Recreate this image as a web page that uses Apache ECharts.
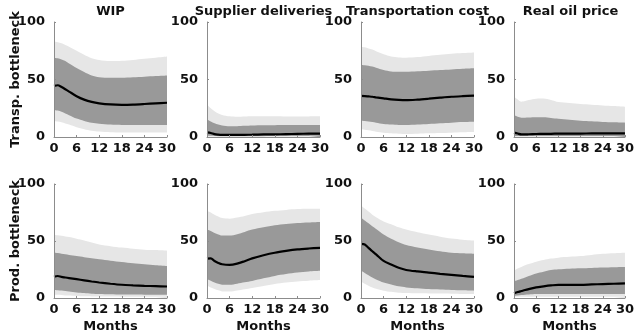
<!DOCTYPE html>
<html><head><meta charset="utf-8">
<script src="https://cdn.jsdelivr.net/npm/echarts@6/dist/echarts.min.js"></script>
<style>html,body{margin:0;padding:0;background:#fff}#c{width:637px;height:334px}</style>
</head><body><div id="c"></div>
<script>
const months = [0, 1, 2, 3, 4, 6, 8, 10, 12, 15, 18, 21, 24, 27, 30];
const colTitles = ['WIP', 'Supplier deliveries', 'Transportation cost', 'Real oil price'];
const rowNames = ['Transp. bottleneck', 'Prod. bottleneck'];
const xLabelName = 'Months';
const yTickVals = [0, 50, 100];
const xTickVals = [0, 6, 12, 18, 24, 30];

// Row 1: transportation bottleneck
const tWipOHi = [83, 82.5, 81.5, 80, 78.5, 75, 71.5, 68.5, 67, 66, 66.3, 67, 68, 69, 70];
const tWipIHi = [69, 68.5, 67.5, 66, 64, 60, 56.5, 53.5, 52, 51.5, 51.5, 52, 52.5, 53, 53.5];
const tWipMed = [44.5, 45, 43.5, 41.5, 39.5, 35.5, 32.5, 30.5, 29.3, 28.3, 28, 28.2, 28.7, 29.3, 29.8];
const tWipILo = [23.5, 23, 22, 20.5, 19, 16, 14, 12.3, 11.5, 10.8, 10.5, 10.5, 10.5, 10.5, 10.5];
const tWipOLo = [14, 13.5, 12.8, 11.8, 10.8, 8.5, 6.8, 5.5, 4.8, 4.2, 4, 4, 4, 4, 4];

const tSupOHi = [28, 25, 22.5, 20.5, 19.2, 18, 17.6, 17.8, 18, 18, 18, 17.8, 17.8, 17.9, 18];
const tSupIHi = [15.5, 13.5, 12, 10.8, 10, 9.3, 9.4, 9.7, 10, 10.2, 10.3, 10.4, 10.5, 10.5, 10.5];
const tSupMed = [4, 3.5, 2.5, 2.1, 1.9, 1.8, 1.8, 1.9, 2, 2.2, 2.3, 2.5, 2.7, 2.9, 3];
const tSupILo = [1, 1, 0.8, 0.7, 0.6, 0.6, 0.6, 0.6, 0.7, 0.7, 0.8, 0.8, 0.9, 0.9, 1];
const tSupOLo = [0.2, 0.2, 0.2, 0.2, 0.2, 0.2, 0.2, 0.2, 0.2, 0.2, 0.2, 0.2, 0.2, 0.2, 0.2];

const tTrnOHi = [78.5, 78, 77, 76, 74.5, 72, 70, 69.2, 69, 69.5, 70.5, 71.5, 72.5, 73, 73.5];
const tTrnIHi = [62.6, 62.4, 62, 61.2, 60.2, 58.3, 57, 56.8, 56.8, 57.2, 57.7, 58.3, 58.8, 59.3, 59.7];
const tTrnMed = [35.7, 35.6, 35.3, 35, 34.5, 33.6, 32.7, 32.2, 32, 32.5, 33.3, 34.2, 35, 35.5, 35.9];
const tTrnILo = [14.2, 14, 13.5, 13, 12.5, 11.3, 10.8, 10.5, 10.4, 10.8, 11.3, 12, 12.5, 13, 13.3];
const tTrnOLo = [6.7, 6.4, 5.8, 5.2, 4.6, 3.8, 3.2, 2.8, 2.6, 2.9, 3.2, 3.5, 3.8, 4.1, 4.3];

const tOilOHi = [35, 32.7, 30.7, 31.3, 32.2, 33.3, 33.4, 32.2, 30.4, 29.5, 28.7, 28.1, 27.5, 27, 26.4];
const tOilIHi = [19.1, 17.6, 16.8, 16.8, 16.9, 17.1, 17.1, 16.6, 15.9, 15, 14.2, 13.6, 13, 12.8, 12.5];
const tOilMed = [3.8, 3, 2.3, 2.3, 2.4, 2.6, 2.7, 2.8, 2.9, 3, 3, 3.1, 3.1, 3.2, 3.2];
const tOilILo = [0.8, 0.8, 0.8, 0.8, 0.8, 0.8, 0.8, 0.8, 0.8, 0.8, 0.8, 0.8, 0.8, 0.8, 0.8];
const tOilOLo = [0.2, 0.2, 0.2, 0.2, 0.2, 0.2, 0.2, 0.2, 0.2, 0.2, 0.2, 0.2, 0.2, 0.2, 0.2];

// Row 2: production bottleneck
const pWipOHi = [55.5, 55, 54.6, 54, 53.4, 52, 50.5, 48.7, 47, 45.5, 44.2, 43.2, 42.4, 42, 41.5];
const pWipIHi = [39.7, 39.4, 38.8, 38.3, 37.8, 36.8, 35.8, 34.8, 33.9, 32.7, 31.6, 30.5, 29.6, 28.8, 28.1];
const pWipMed = [18.6, 19.3, 18.5, 18, 17.5, 16.5, 15.5, 14.5, 13.6, 12.5, 11.6, 11.1, 10.7, 10.4, 10.1];
const pWipILo = [7, 6.8, 6.5, 6.1, 5.7, 4.9, 4.3, 3.8, 3.5, 3.2, 3, 3, 2.9, 2.9, 2.9];
const pWipOLo = [2.9, 2.8, 2.6, 2.3, 2.1, 1.7, 1.5, 1.4, 1.3, 1.3, 1.2, 1.2, 1.2, 1.2, 1.2];

const pSupOHi = [76.5, 75, 73, 71.5, 70.1, 69.6, 70.7, 72, 73.6, 75.2, 76.5, 77.3, 78, 78.2, 78.3];
const pSupIHi = [60, 58.8, 57.1, 55.8, 54.8, 54.8, 56, 58, 60, 62, 63.8, 65, 65.8, 66.3, 66.7];
const pSupMed = [34.5, 34.8, 32.5, 30.8, 29.6, 29, 30.1, 32.3, 34.8, 37.5, 39.7, 41.3, 42.6, 43.4, 44];
const pSupILo = [16.5, 15.2, 13.6, 12.4, 11.6, 11.6, 12.6, 13.8, 15, 17.3, 19.4, 21, 22.3, 23.2, 23.8];
const pSupOLo = [10.7, 9.3, 7.8, 6.7, 5.8, 5.6, 6.5, 7.6, 8.7, 10.5, 12.2, 13.5, 14.5, 15.2, 15.7];

const pTrnOHi = [81.2, 78.5, 75.8, 73, 70.8, 67.2, 64.7, 62, 60, 57.6, 55.6, 53.8, 52.2, 51.2, 50.4];
const pTrnIHi = [70.7, 68, 65.5, 62.9, 60.5, 55.6, 52, 49, 46.4, 44.3, 42.6, 41, 39.7, 39.2, 38.8];
const pTrnMed = [47.5, 47, 44, 41, 38.3, 32.5, 29.3, 26.5, 24.6, 23.3, 22.3, 21.2, 20.3, 19.4, 18.6];
const pTrnILo = [23.8, 22, 20, 18, 16.3, 13.6, 11.8, 10.2, 9.3, 8.5, 7.8, 7.4, 7, 6.7, 6.4];
const pTrnOLo = [14.5, 12.5, 10.8, 9.3, 8.2, 6.4, 5.4, 4.6, 4.3, 4.1, 4, 3.9, 3.8, 3.6, 3.5];

const pOilOHi = [23.8, 25.8, 27.2, 28.7, 29.8, 31.9, 33.3, 34.6, 35.4, 36.1, 36.8, 37.8, 38.8, 39.3, 39.7];
const pOilIHi = [14.5, 15.7, 16.8, 18, 19.2, 21.5, 23, 24.5, 25.2, 25.7, 26.1, 26.4, 26.7, 27, 27.2];
const pOilMed = [4.1, 5.2, 6.1, 7, 7.8, 9.3, 10.2, 11, 11.6, 11.6, 11.6, 11.9, 12.2, 12.5, 12.8];
const pOilILo = [2, 2.3, 2.6, 2.9, 3.1, 3.5, 3.5, 3.5, 3.5, 3.5, 3.5, 3.5, 3.5, 3.5, 3.5];
const pOilOLo = [1, 1, 1, 1, 1, 1, 1, 1, 1, 1, 1, 1, 1, 1, 1];

const panels = [
  [tWipOLo, tWipILo, tWipMed, tWipIHi, tWipOHi],
  [tSupOLo, tSupILo, tSupMed, tSupIHi, tSupOHi],
  [tTrnOLo, tTrnILo, tTrnMed, tTrnIHi, tTrnOHi],
  [tOilOLo, tOilILo, tOilMed, tOilIHi, tOilOHi],
  [pWipOLo, pWipILo, pWipMed, pWipIHi, pWipOHi],
  [pSupOLo, pSupILo, pSupMed, pSupIHi, pSupOHi],
  [pTrnOLo, pTrnILo, pTrnMed, pTrnIHi, pTrnOHi],
  [pOilOLo, pOilILo, pOilMed, pOilIHi, pOilOHi]
];

const FONT = 'DejaVu Sans';
const LIGHT = '#e6e6e6', DARK = '#999999', AXIS = '#8c8c8c', TXT = '#111111';
const colLeft = [54, 207, 361, 514];
const rowTop = [22, 184];
const gw = 113, gh = 115;

const grids = [], xAxes = [], yAxes = [], series = [], graphics = [];
const pairs = (arr) => months.map((m, i) => [m, arr[i]]);

for (let r = 0; r < 2; r++) {
  for (let c = 0; c < 4; c++) {
    const k = r * 4 + c;
    grids.push({ left: colLeft[c], top: rowTop[r], width: gw, height: gh });
    xAxes.push({
      gridIndex: k, type: 'value', min: 0, max: 30, interval: 6, z: 10,
      axisLine: { lineStyle: { color: AXIS, width: 1 } },
      axisTick: { inside: true, length: 2, lineStyle: { color: AXIS } },
      splitLine: { show: false },
      axisLabel: { margin: 5, fontFamily: FONT, fontWeight: 'bold', fontSize: 13, color: TXT, showMinLabel: true, showMaxLabel: true },
      name: r === 1 ? xLabelName : '', nameLocation: 'middle', nameGap: 22, nameMoveOverlap: false,
      nameTextStyle: { fontFamily: FONT, fontWeight: 'bold', fontSize: 13, color: TXT }
    });
    yAxes.push({
      gridIndex: k, type: 'value', min: 0, max: 100, interval: 50, z: 10,
      axisLine: { show: true, lineStyle: { color: AXIS, width: 1 } },
      axisTick: { show: true, inside: true, length: 2, lineStyle: { color: AXIS } },
      splitLine: { show: false },
      axisLabel: { margin: 9, fontFamily: FONT, fontWeight: 'bold', fontSize: 13, color: TXT },
      name: c === 0 ? rowNames[r] : '', nameLocation: 'middle', nameGap: 32, nameRotate: 90, nameMoveOverlap: false,
      nameTextStyle: { fontFamily: FONT, fontWeight: 'bold', fontSize: 13, color: TXT }
    });
    const [oLo, iLo, med, iHi, oHi] = panels[k];
    const common = { xAxisIndex: k, yAxisIndex: k, type: 'line', smooth: 0.3, showSymbol: false, silent: true, lineStyle: { width: 0, opacity: 0 } };
    series.push(Object.assign({}, common, { data: pairs(oHi), areaStyle: { color: LIGHT, opacity: 1, origin: 'start' } }));
    series.push(Object.assign({}, common, { data: pairs(iHi), areaStyle: { color: DARK, opacity: 1, origin: 'start' } }));
    series.push(Object.assign({}, common, { data: pairs(iLo), areaStyle: { color: LIGHT, opacity: 1, origin: 'start' } }));
    series.push(Object.assign({}, common, { data: pairs(oLo), areaStyle: { color: '#ffffff', opacity: 1, origin: 'start' } }));
    series.push({ xAxisIndex: k, yAxisIndex: k, type: 'line', smooth: 0.3, showSymbol: false, silent: true, z: 5,
      data: pairs(med), lineStyle: { color: '#000', width: 2.2 } });
  }
}
for (let c = 0; c < 4; c++) {
  graphics.push({ type: 'text', x: colLeft[c] + gw / 2, y: 12, style: {
    text: colTitles[c], align: 'center', verticalAlign: 'middle',
    fontFamily: FONT, fontWeight: 'bold', fontSize: 13, fill: TXT } });
}

const chart = echarts.init(document.getElementById('c'), null, { renderer: 'canvas' });
chart.setOption({
  backgroundColor: '#fff', animation: false,
  grid: grids, xAxis: xAxes, yAxis: yAxes, series: series, graphic: graphics
});
</script></body></html>
